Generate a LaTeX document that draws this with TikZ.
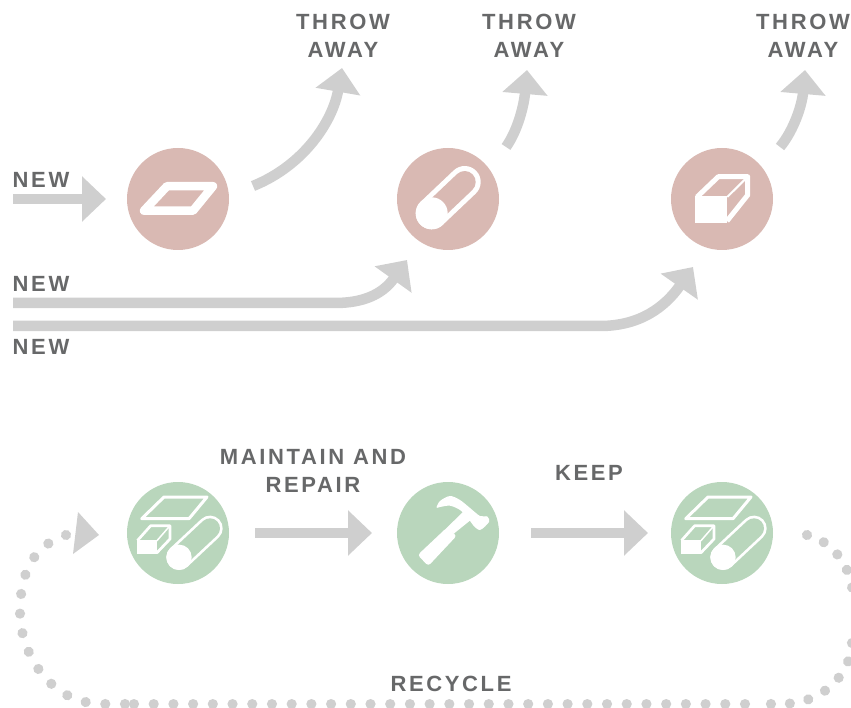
\documentclass[tikz,border=0pt]{standalone}
\usepackage{fontspec}
\setmainfont{Liberation Sans}[LetterSpace=12]
\usetikzlibrary{arrows.meta,positioning}
\definecolor{arrowgray}{HTML}{CFCFCF}
\definecolor{textgray}{HTML}{676869}
\definecolor{pinkfill}{HTML}{D9B9B3}
\definecolor{greenfill}{HTML}{B9D6BC}

\begin{document}
\begin{tikzpicture}[
    x=1pt,y=-1pt,
    tag/.style={font=\bfseries\fontsize{22}{28}\selectfont,text=textgray,align=center,inner sep=0pt},
    badge/.style={circle,minimum size=102pt,inner sep=0pt},
    used/.style={badge,fill=pinkfill},
    kept/.style={badge,fill=greenfill},
    flow/.style={draw=arrowgray,line width=10.5pt,-{Triangle[length=24pt,width=44pt]}},
    dots/.style={draw=arrowgray,line width=10.2pt,line cap=round,dash pattern=on 0.01pt off 19.7pt},
    icon/.style={draw=white,line join=round},
    pics/sheeticon/.style={code={
      \draw[icon,line width=8.5pt] (-11,-12.8) -- (35,-12.8) -- (15,11.7) -- (-34,11.7) -- cycle;
    }},
    pics/rodicon/.style={code={
      \draw[white,line width=32pt,line cap=round] (-16.3,14.3) -- (16.7,-17);
      \draw[pinkfill,line width=22pt,line cap=round] (-16.3,14.3) -- (16.7,-17);
      \fill[white] (-16.3,14.3) circle (16);
    }},
    pics/blockicon/.style={code={
      \fill[white] (-27,-3) rectangle (5.3,24.3);
      \draw[icon,line width=5pt] (-25,-2) -- (-3.7,-22.3) -- (25.7,-22.3) -- (25.7,-4) -- (5,22);
      \draw[icon,line width=2pt] (5.3,-2) -- (25.7,-22.3);
    }},
    pics/stockicon/.style={code={
      \draw[icon,line width=3pt] (-14,-36) -- (29,-36) -- (11,-14.3) -- (-36.3,-14.3) -- cycle;
      \draw[white,line width=25.4pt,line cap=round] (1,24.3) -- (32,-4.7);
      \draw[greenfill,line width=20pt,line cap=round] (1,24.3) -- (32,-4.7);
      \fill[white] (1,24.3) circle (12.7);
      \fill[white] (-41.3,7) rectangle (-21.3,21);
      \draw[icon,line width=2.7pt] (-40.5,7.5) -- (-27.3,-7.3) -- (-8,-7.3) -- (-8,6) -- (-21.3,20);
      \draw[icon,line width=1.5pt] (-21.3,8) -- (-8,-7.3);
    }},
    pics/hammericon/.style={code={
      \fill[white,rounded corners=3pt] (-30.3,22) -- (-19.7,33) -- (8.7,2.7) -- (-1.3,-5.3) -- cycle;
      \fill[white] (-3,-3.5) -- (15.3,-21.3) -- (22.7,-13) -- (6,0.5) -- cycle;
      \fill[white] plot[smooth cycle,tension=0.5] coordinates {(-11.5,-25.3) (-8,-32) (2,-37) (12,-33) (22,-25) (32,-17) (39.3,-16.5) (41,-11) (32,-3) (25,-8) (20,-15) (12,-23) (2,-27.3) (-8,-26)};
    }}
  ]
    \clip (0,0) rectangle (851,708);

    % Discarded materials
    \node[used] (sheet) at (178,199) {};
    \node[used] (rod) at (448,199) {};
    \node[used] (block) at (722,199) {};
    \pic at (sheet) {sheeticon};
    \pic at (rod) {rodicon};
    \pic at (block) {blockicon};

    % Kept materials
    \node[kept] (stock1) at (178,533) {};
    \node[kept] (hammer) at (448,533) {};
    \node[kept] (stock2) at (722,533) {};
    \pic at (stock1) {stockicon};
    \pic at (hammer) {hammericon};
    \pic at (stock2) {stockicon};

    % Labels
    \node[tag] (new1) at (41,180) {NEW};
    \node[tag] (new2) at (41,284) {NEW};
    \node[tag] (new3) at (41,347) {NEW};
    \node[tag] (throw1) at (343,36) {THROW\\AWAY};
    \node[tag] (throw2) at (529,36) {THROW\\AWAY};
    \node[tag] (throw3) at (803,36) {THROW\\AWAY};
    \node[tag] (maintain) at (313,471) {MAINTAIN AND\\REPAIR};
    \node[tag] (keep) at (589,473) {KEEP};
    \node[tag] (recycle) at (451,684) {RECYCLE};

    % New arrows
    \coordinate (in1) at (13,199);
    \coordinate (in2) at (13,303);
    \coordinate (in3) at (13,326);
    \coordinate (tip1) at (106,199);
    \coordinate (tip2) at (407,260);
    \coordinate (tip3) at (693,267);
    \draw[flow] (in1) -- (tip1);
    \draw[flow] (in2) -- (335,303) .. controls (362,303) and (382,295) .. (tip2);
    \draw[flow] (in3) -- (600,326) .. controls (640,326) and (665,307) .. (tip3);

    % Throw away arrows
    \coordinate (out1) at (253,186);
    \coordinate (out2) at (506,147);
    \coordinate (out3) at (780,147);
    \coordinate (top1) at (342,68);
    \coordinate (top2) at (527,70);
    \coordinate (top3) at (805,70);
    \draw[flow] (out1) .. controls (305,165) and (333,120) .. (top1);
    \draw[flow] (out2) .. controls (518,130) and (524,105) .. (top2);
    \draw[flow] (out3) .. controls (794,130) and (802,105) .. (top3);

    % Lower arrows
    \coordinate (m1) at (255,533);
    \coordinate (m2) at (372,533);
    \coordinate (k1) at (531,533);
    \coordinate (k2) at (648,533);
    \draw[flow] (m1) -- (m2);
    \draw[flow] (k1) -- (k2);

    % Recycle dots
    \coordinate (r1) at (807,535);
    \coordinate (r2) at (853,595);
    \coordinate (r3) at (852,643);
    \coordinate (r4) at (755,704);
    \coordinate (r5) at (745,704);
    \coordinate (r6) at (130,704);
    \coordinate (r7) at (128,704);
    \coordinate (r8) at (66,535);
    \draw[dots,dash pattern=on 0.01pt off 18.3pt] (r1) .. controls (832,541) and (851,565) .. (r2);
    \draw[dots,dash pattern=on 0.01pt off 18.9pt] (r3) .. controls (851,672) and (825,704) .. (781,704) -- (r4);
    \draw[dots] (r5) -- (r6);
    \draw[dots] (r8) .. controls (35,545) and (20,570) .. (20,613) .. controls (20,650) and (48,704) .. (103,704) -- (r7);
    \fill[arrowgray] (78,512) -- (99,535) -- (73,554) -- cycle;
\end{tikzpicture}
\end{document}
